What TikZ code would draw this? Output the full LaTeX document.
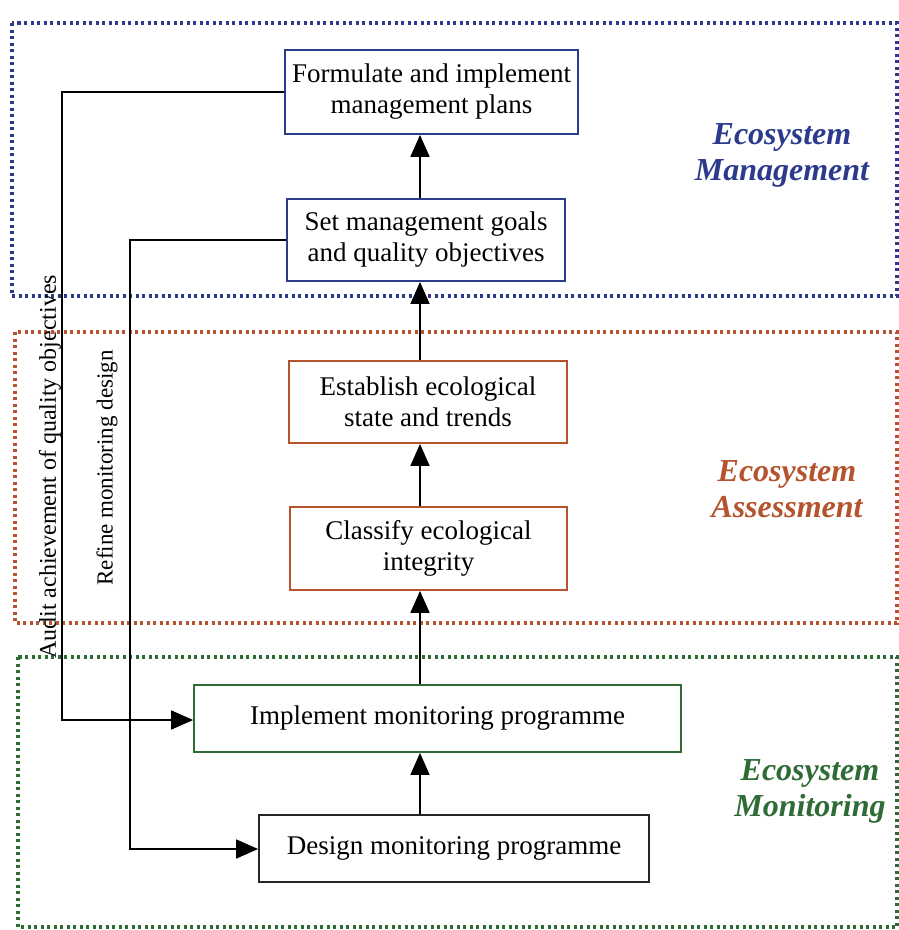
\documentclass[tikz,border=0pt]{standalone}
\usepackage{fontspec}
\setmainfont{Liberation Serif}
\usetikzlibrary{arrows.meta}
\definecolor{mblue}{HTML}{2B3A8C}
\definecolor{mred}{HTML}{B4532E}
\definecolor{mgreen}{HTML}{2E6B35}
\tikzset{
  stepbox/.style={draw, line width=1.8pt, inner sep=0pt, align=center,
    font=\fontsize{27}{31}\selectfont},
  region/.style={line width=3.5pt, dash pattern=on 3pt off 3.5pt},
  arr/.style={line width=1.6pt, -{Triangle[length=22pt,width=19pt]}},
  lbl/.style={align=center, font=\fontsize{32}{36}\selectfont\bfseries\itshape},
  side/.style={rotate=90, inner sep=0pt}
}
\begin{document}
\begin{tikzpicture}[x=1pt,y=-1pt]
\useasboundingbox (0,0) rectangle (898,930);
% regions
\draw[region, mblue] (12,23) rectangle (897,296);
\draw[region, mred] (15,332) rectangle (897,623);
\draw[region, mgreen] (18,657) rectangle (897,927);
% section labels
\node[lbl, text=mblue] (lm) at (782,155) {Ecosystem\\Management};
\node[lbl, text=mred] (la) at (787,489) {Ecosystem\\Assessment};
\node[lbl, text=mgreen] (lmo) at (810,791) {Ecosystem\\Monitoring};
% boxes
\node[stepbox, mblue, text=black, minimum width=293pt, minimum height=84pt] (form) at (431.5,92) {Formulate and implement\\management plans};
\node[stepbox, mblue, text=black, minimum width=278pt, minimum height=82pt] (goals) at (426,240) {Set management goals\\and quality objectives};
\node[stepbox, mred, text=black, minimum width=278pt, minimum height=82pt] (estab) at (428,402) {Establish ecological\\state and trends};
\node[stepbox, mred, text=black, minimum width=277pt, minimum height=83pt] (class) at (428.5,548.5) {Classify ecological\\integrity};
\node[stepbox, mgreen, text=black, minimum width=487pt, minimum height=67pt] (impl) at (437.5,718.5) {Implement monitoring programme};
\node[stepbox, black!85, text=black, minimum width=390pt, minimum height=67pt] (design) at (454,848.5) {Design monitoring programme};
% vertical arrows
\coordinate (vx) at (420,0);
\draw[arr] (design.north -| vx) -- (impl.south -| vx);
\draw[arr] (impl.north -| vx) -- (class.south -| vx);
\draw[arr] (class.north -| vx) -- (estab.south -| vx);
\draw[arr] (estab.north -| vx) -- (goals.south -| vx);
\draw[arr] (goals.north -| vx) -- (form.south -| vx);
% feedback loops
\coordinate (ac) at (62,720);
\draw[arr] (form.west) -| (ac) -- (impl.west |- ac);
\coordinate (rc) at (130,849);
\draw[arr] (goals.west) -| (rc) -- (design.west |- rc);
% side labels
\node[side, font=\fontsize{24}{28}\selectfont] (audit) at (50,467) {Audit achievement of quality objectives};
\node[side, font=\fontsize{23}{28}\selectfont] (refine) at (107,468) {Refine monitoring design};
\end{tikzpicture}
\end{document}
